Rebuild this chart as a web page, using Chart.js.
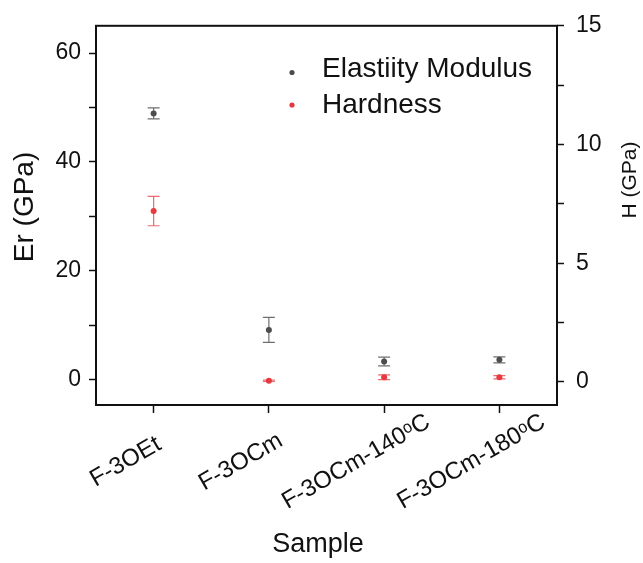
<!DOCTYPE html>
<html>
<head>
<meta charset="utf-8">
<script src="https://cdn.jsdelivr.net/npm/chart.js@4.4.1/dist/chart.umd.min.js"></script>
<style>
  html, body { margin: 0; padding: 0; background: #fff; }
  #wrap { width: 643px; height: 563px; }
</style>
</head>
<body>
<div id="wrap"><canvas id="hardnessChart" width="643" height="563"></canvas></div>
<script>
// données
const samples = ["F-3OEt", "F-3OCm", "F-3OCm-140ᵒC", "F-3OCm-180ᵒC"];
const modulus = [48.9, 9.1, 3.3, 3.6];
const modulusErr = [1.0, 2.3, 0.8, 0.55];
const hardness = [7.2, 0.05, 0.2, 0.2];
const hardnessErr = [0.62, 0.03, 0.1, 0.07];

const erTickValues = [0, 10, 20, 30, 40, 50, 60];
const erTickLabels = ["0", "", "20", "", "40", "", "60"];
const hTickValues = [0, 2.5, 5, 7.5, 10, 12.5, 15];
const hTickLabels = ["0", "", "5", "", "10", "", "15"];

const FONT = "'Liberation Sans', Arial, sans-serif";
Chart.defaults.font.family = FONT;
Chart.defaults.color = "#111";

// barres d'erreur, dessinées sous les points
const errorBarsPlugin = {
  id: "errorBars",
  beforeDatasetsDraw(chart) {
    const ctx = chart.ctx;
    chart.data.datasets.forEach((ds, i) => {
      const meta = chart.getDatasetMeta(i);
      const yScale = chart.scales[ds.yAxisID];
      ctx.save();
      ctx.strokeStyle = ds.errorColor;
      ctx.lineWidth = 1.2;
      meta.data.forEach((pt, j) => {
        const v = ds.data[j];
        const e = ds.errors[j];
        const yTop = yScale.getPixelForValue(v + e);
        const yBot = yScale.getPixelForValue(v - e);
        const x = pt.x;
        ctx.beginPath();
        ctx.moveTo(x, yTop);
        ctx.lineTo(x, yBot);
        ctx.moveTo(x - 6, yTop);
        ctx.lineTo(x + 6, yTop);
        ctx.moveTo(x - 6, yBot);
        ctx.lineTo(x + 6, yBot);
        ctx.stroke();
      });
      ctx.restore();
    });
  }
};

function rotatedText(ctx, text, x, y, angle, size) {
  ctx.save();
  ctx.translate(x, y);
  ctx.rotate(angle);
  ctx.font = size + "px " + FONT;
  ctx.textAlign = "center";
  ctx.textBaseline = "middle";
  ctx.fillText(text, 0, 0);
  ctx.restore();
}

// cadre, légende, titres d'axes et étiquettes inclinées
const decorPlugin = {
  id: "decor",
  afterDraw(chart) {
    const ctx = chart.ctx;
    const a = chart.chartArea;
    ctx.save();
    ctx.strokeStyle = "#111";
    ctx.lineWidth = 2;
    ctx.strokeRect(a.left, a.top, a.right - a.left, a.bottom - a.top);

    // légende
    ctx.font = "28px " + FONT;
    ctx.textBaseline = "alphabetic";
    ctx.textAlign = "left";
    const rows = [[72.5, 77], [105, 113]];
    chart.data.datasets.forEach((ds, i) => {
      ctx.fillStyle = ds.pointBackgroundColor;
      ctx.beginPath();
      ctx.arc(292, rows[i][0], 2.6, 0, Math.PI * 2);
      ctx.fill();
      ctx.fillStyle = "#111";
      ctx.fillText(ds.label, 322, rows[i][1]);
    });
    ctx.restore();

    ctx.fillStyle = "#111";
    // étiquettes de l'axe x, centrées et inclinées à 30°
    const xs = chart.scales.x;
    samples.forEach((s, i) => {
      rotatedText(ctx, s, xs.getPixelForTick(i) - 28, 462, -Math.PI / 6, 24);
    });

    // titres des axes
    rotatedText(ctx, "Er (GPa)", 25, 207, -Math.PI / 2, 28);
    rotatedText(ctx, "H (GPa)", 630, 180, -Math.PI / 2, 21);
    rotatedText(ctx, "Sample", 318, 545, 0, 27);
  }
};

const tickGrid = {
  display: true,
  drawOnChartArea: false,
  drawTicks: true,
  tickLength: 7,
  tickColor: "#111",
  tickWidth: 1.5
};

const ctx = document.getElementById("hardnessChart").getContext("2d");

const config = {
  type: "line",
  data: {
    labels: samples,
    datasets: [
      {
        label: "Elastiity Modulus",
        data: modulus,
        errors: modulusErr,
        yAxisID: "y",
        showLine: false,
        pointRadius: 3,
        pointBorderWidth: 0,
        pointBackgroundColor: "#4d4d4d",
        errorColor: "#6f6f6f"
      },
      {
        label: "Hardness",
        data: hardness,
        errors: hardnessErr,
        yAxisID: "y1",
        showLine: false,
        pointRadius: 3,
        pointBorderWidth: 0,
        pointBackgroundColor: "#e8393e",
        errorColor: "#ee6a6e"
      }
    ]
  },
  options: {
    responsive: false,
    animation: false,
    layout: { padding: { top: 24, left: 0, right: 0, bottom: 0 } },
    plugins: {
      legend: { display: false },
      tooltip: { enabled: false }
    },
    scales: {
      x: {
        type: "category",
        offset: true,
        grid: Object.assign({}, tickGrid, { tickLength: 8 }),
        border: { display: false },
        ticks: { display: false, autoSkip: false },
        afterFit(scale) { scale.height = 158; }
      },
      y: {
        position: "left",
        min: -4.7,
        max: 65,
        grid: tickGrid,
        border: { display: false },
        afterBuildTicks(scale) {
          scale.ticks = erTickValues.map((v) => ({ value: v }));
        },
        ticks: {
          padding: 8,
          font: { size: 23 },
          callback: (v) => erTickLabels[erTickValues.indexOf(v)]
        },
        afterFit(scale) { scale.width = 96; }
      },
      y1: {
        position: "right",
        min: -0.97,
        max: 15,
        grid: tickGrid,
        border: { display: false },
        afterBuildTicks(scale) {
          scale.ticks = hTickValues.map((v) => ({ value: v }));
        },
        ticks: {
          padding: 12,
          font: { size: 23 },
          callback: (v) => hTickLabels[hTickValues.indexOf(v)]
        },
        afterFit(scale) { scale.width = 86; }
      }
    }
  },
  plugins: [errorBarsPlugin, decorPlugin]
};

const myChart = new Chart(ctx, config);
</script>
</body>
</html>
